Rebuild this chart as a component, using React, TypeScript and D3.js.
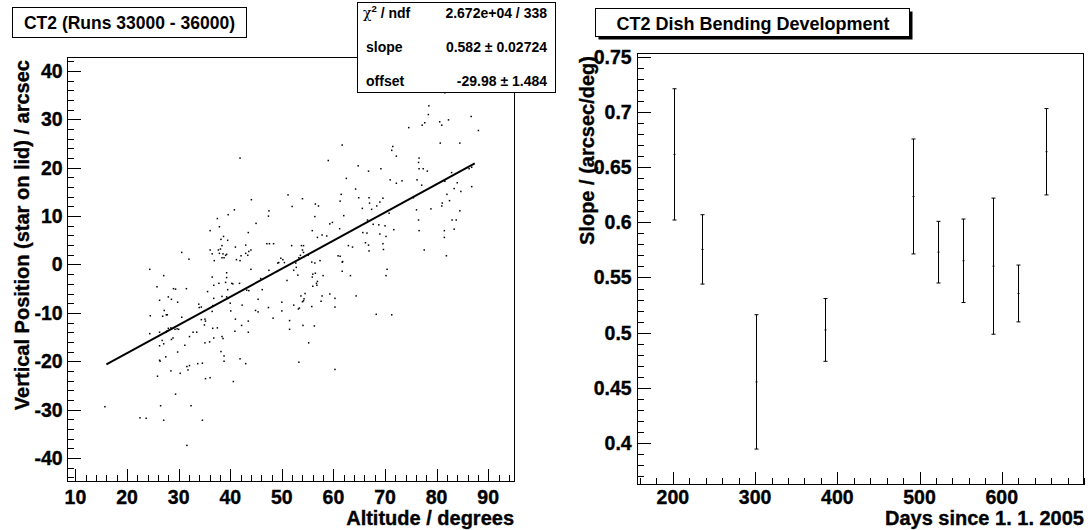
import React from "react";
import * as d3 from "d3";

// ---------- Left panel data: star on lid vertical position vs altitude ----------
const altitude = [
  81.6, 78.5, 78.4, 77.7, 77.2, 74.6, 80.6, 81.0, 82.3, 86.7, 88.1, 80.7, 84.5, 61.7, 71.5, 71.3, 72.2, 41.9, 59.0, 76.6,
  76.5, 64.8, 66.8, 69.2, 76.6, 77.4, 78.2, 86.8, 86.3, 62.5, 71.0, 72.2, 73.3, 76.2, 77.1, 81.6, 82.9, 84.0, 83.4, 84.7,
  86.8, 64.3, 61.5, 51.2, 54.0, 64.9, 66.9, 69.6, 61.3, 56.5, 57.1, 68.4, 44.1, 40.8, 47.5, 47.4, 52.0, 65.6, 67.0, 67.4,
  70.8, 69.0, 75.5, 76.1, 78.9, 81.1, 81.0, 82.0, 82.5, 84.5, 76.5, 39.6, 37.5, 62.0, 56.4, 45.0, 37.9, 59.3, 59.8, 61.2,
  68.8, 70.0, 71.7, 67.7, 66.6, 83.0, 83.8, 76.6, 81.5, 83.4, 81.5, 81.9, 77.6, 36.1, 43.5, 55.9, 57.8, 58.7, 56.9, 65.7,
  66.5, 69.0, 70.2, 38.7, 38.2, 39.5, 38.4, 38.1, 37.7, 36.1, 36.5, 37.9, 38.6, 39.1, 39.3, 38.8, 38.4, 36.9, 47.1, 47.6,
  48.4, 41.0, 43.0, 44.0, 43.0, 43.6, 43.4, 42.1, 41.2, 41.9, 53.8, 54.2, 51.9, 54.0, 54.2, 53.6, 62.9, 63.7, 66.2, 66.8,
  66.9, 69.6, 69.7, 49.8, 50.2, 49.4, 49.2, 50.5, 60.9, 61.3, 61.8, 57.4, 55.8, 56.4, 55.1, 53.3, 30.6, 32.0, 24.4, 27.1,
  25.8, 26.3, 29.0, 29.4, 31.5, 28.0, 28.6, 29.8, 27.2, 26.9, 27.6, 27.8, 24.5, 24.4, 30.6, 33.9, 34.0, 34.4, 35.6, 36.5,
  36.8, 36.8, 36.6, 37.8, 39.3, 39.3, 39.1, 39.5, 40.3, 40.5, 41.8, 38.4, 39.3, 39.6, 40.0, 40.1, 42.3, 43.2, 43.6, 44.0,
  45.9, 46.2, 45.4, 44.9, 45.4, 47.5, 47.4, 48.3, 50.0, 50.0, 51.0, 52.3, 52.3, 52.8, 53.1, 53.2, 53.4, 53.7, 54.0, 54.2,
  54.3, 54.5, 52.7, 51.5, 51.5, 54.1, 55.8, 56.3, 56.0, 56.5, 56.9, 56.7, 56.8, 56.0, 55.9, 58.0, 57.6, 57.8, 59.3, 60.3,
  60.3, 61.7, 61.7, 63.3, 64.4, 55.2, 53.3, 60.3, 68.3, 71.3, 70.4, 70.2, 32.1, 32.8, 33.5, 34.4, 35.1, 35.2, 35.0, 36.5,
  37.5, 36.6, 36.8, 38.4, 38.6, 38.2, 38.8, 38.8, 41.0, 40.9, 42.2, 43.5, 43.5, 41.9, 43.0, 40.6, 35.1, 36.0, 33.7, 34.6,
  35.2, 36.1, 31.2, 31.6, 32.1, 31.8, 30.3, 28.5, 29.8, 28.6, 28.9, 27.8, 27.6, 26.3, 26.8, 26.3, 27.1, 26.3, 27.5, 25.9,
  26.4, 29.3, 29.7, 30.0, 28.5, 28.0, 29.4, 26.5, 32.4, 22.5, 23.7, 27.1, 34.6, 31.6, 15.7,
];
const position = [
  35.5, 32.8, 31.0, 29.3, 28.8, 28.3, 29.5, 28.8, 29.9, 30.6, 27.7, 25.1, 25.1, 24.7, 24.4, 23.6, 22.4, 22.0, 21.5, 22.0,
  21.1, 20.4, 19.3, 19.8, 19.8, 19.8, 19.3, 20.1, 19.8, 17.8, 17.5, 16.8, 17.3, 17.5, 16.4, 17.2, 19.0, 16.9, 15.7, 15.1,
  16.1, 15.6, 14.5, 14.4, 13.6, 13.8, 13.8, 13.7, 13.1, 12.5, 12.1, 12.1, 13.4, 11.3, 11.1, 10.0, 12.0, 11.6, 12.7, 11.4,
  10.6, 12.9, 13.8, 11.3, 11.5, 12.7, 12.1, 14.5, 13.2, 11.1, 9.2, 10.3, 9.5, 10.1, 9.9, 8.5, 7.8, 8.4, 8.7, 7.4,
  8.2, 8.0, 7.2, 8.3, 9.2, 9.2, 9.2, 7.0, 7.0, 7.3, 5.6, 1.8, 3.0, 7.0, 6.6, 7.0, 6.1, 5.9, 5.6, 6.6,
  6.5, 6.3, 5.8, 5.8, 5.2, 5.0, 3.9, 3.2, 3.0, 3.0, 2.2, 2.3, 2.2, 1.9, 2.1, 1.4, 1.4, 0.8, 4.3, 4.3,
  4.3, 3.6, 4.0, 3.0, 2.3, 2.7, 1.9, 1.8, 1.0, 0.8, 3.9, 3.9, 3.9, 3.0, 2.5, 1.9, 3.9, 3.6, 4.5, 4.0,
  2.8, 4.3, 3.1, 1.3, 1.0, 0.4, 0.3, 0.4, 1.8, 1.7, 0.6, 0.8, 0.5, 0.3, 1.9, 1.4, 2.5, 1.1, -1.0, -2.3,
  -4.6, -7.4, -5.0, -5.1, -5.0, -6.7, -7.2, -7.8, -9.5, -10.7, -10.4, -10.4, -10.6, -14.3, -10.9, -8.2, -8.9, -8.8, -5.6, -2.6,
  -4.3, -7.0, -8.5, -3.9, -1.7, -2.7, -3.7, -5.2, -3.9, -4.0, -3.9, -6.6, -6.7, -7.0, -8.0, -9.6, -8.4, -5.3, -5.4, -1.0,
  -2.9, -5.2, -7.2, -9.5, -9.8, -1.2, -8.9, -11.1, -7.8, -9.6, -3.3, -1.2, -8.4, -0.6, -2.2, -9.2, -9.0, -6.5, -7.7, -7.5,
  -7.1, -6.0, 0.3, -11.6, -13.4, -12.6, -8.7, -12.7, -2.0, -1.8, -3.5, -3.9, -4.3, -4.5, -2.6, -2.3, -7.6, -6.5, -6.1, -7.0,
  -8.8, -1.4, 0.5, -2.3, -6.5, -16.2, -20.2, -21.7, -10.3, -10.4, -1.0, -2.3, -14.9, -14.0, -14.0, -11.4, -11.3, -11.7, -12.5, -9.7,
  -13.1, -13.2, -15.2, -14.9, -15.3, -18.0, -18.9, -20.0, -11.3, -13.8, -12.6, -11.7, -14.0, -19.5, -20.5, -24.2, -16.2, -16.0, -20.5, -20.4,
  -23.6, -23.4, -16.7, -21.1, -20.9, -21.8, -22.5, -22.0, -18.1, -15.5, -15.2, -13.7, -14.0, -14.0, -15.7, -16.8, -16.4, -19.8, -19.1, -23.1,
  -20.0, -13.4, -13.3, -13.4, -13.1, -13.2, -26.8, -29.2, -29.2, -31.7, -31.8, -32.2, -32.2, -37.4, -29.4,
];
const fitSlope = 0.582;
const fitOffset = -29.98;
const fitRange = [16.0, 87.4];

const statsLabels = ["slope", "offset"];
const statsValues = ["0.582 \u00b1 0.02724", "-29.98 \u00b1 1.484"];
const chi2Value = "2.672e+04 / 338";

// ---------- Right panel data: slope development ----------
const days = [201.0, 235.6, 301.6, 384.6, 491.5, 522.7, 552.6, 589.5, 620.2, 653.8];
const slopes = [0.6618, 0.5755, 0.4552, 0.5024, 0.6236, 0.573, 0.5652, 0.5603, 0.5355, 0.6642];
const slopeErr = [0.0596, 0.0315, 0.061, 0.0285, 0.0522, 0.028, 0.0379, 0.0618, 0.0258, 0.0392];

// ---------- Tick values ----------
const altTicks = [10, 20, 30, 40, 50, 60, 70, 80, 90];
const posTicks = [-40, -30, -20, -10, 0, 10, 20, 30, 40];
const dayTicks = [200, 300, 400, 500, 600];
const slopeTicks = [0.4, 0.45, 0.5, 0.55, 0.6, 0.65, 0.7, 0.75];

const FONT = "'Liberation Sans', Arial, Helvetica, sans-serif";
const TICK_FS = 19.5;
const TITLE_FS = 20;
const BOLD = 700;

function minorTicks(lo: number, hi: number, step: number, scale: number) {
  const a = Math.ceil((lo * scale) / (step * scale) - 1e-9);
  const b = Math.floor((hi * scale) / (step * scale) + 1e-9);
  return d3.range(a, b + 1).map((k) => (k * step * scale) / scale);
}

const px = (v: number) => Math.round(v) + 0.5;
const d3fmt = d3.format("~g");
const fmt = (v: number) => d3fmt(v).replace("\u2212", "-");

export default function App() {
  // Left panel scales
  const xL = d3.scaleLinear().domain([8.3, 95]).range([66.7, 514]);
  const yL = d3.scaleLinear().domain([-44.7, 42.9]).range([480.7, 57]);
  // Right panel scales
  const xR = d3.scaleLinear().domain([156, 700]).range([636.7, 1084]);
  const yR = d3.scaleLinear().domain([0.3622, 0.7536]).range([484.3, 53.3]);

  const fitLine = d3
    .line<number>()
    .x((d) => xL(d))
    .y((d) => yL(fitSlope * d + fitOffset));

  const [lx0, lx1] = xL.range();
  const [ly0, ly1] = yL.range();
  const [rx0, rx1] = xR.range();
  const [ry0, ry1] = yR.range();

  const tickX = 12.7,
    tickY = 13.4;

  const altMinor = minorTicks(xL.domain()[0], xL.domain()[1], 2, 1);
  const posMinor = minorTicks(yL.domain()[0], yL.domain()[1], 2, 1);
  const dayMinor = minorTicks(xR.domain()[0], xR.domain()[1], 20, 1);
  const slopeMinor = minorTicks(yR.domain()[0], yR.domain()[1], 0.01, 100);

  const txt = { fontFamily: FONT, fontWeight: BOLD, fill: "#000" } as const;
  const heavy = { ...txt, stroke: "#000", strokeWidth: 0.35 } as const;

  return (
    <svg
      width={1088}
      height={530}
      style={{ position: "absolute", left: 0, top: 0, background: "#fff" }}
    >
      <rect x={0} y={0} width={1088} height={530} fill="#fff" />

      {/* ================= LEFT PANEL ================= */}
      <rect
        x={px(lx0)}
        y={px(ly1)}
        width={Math.round(lx1) - Math.round(lx0)}
        height={Math.round(ly0) - Math.round(ly1)}
        fill="none"
        stroke="#000"
        strokeWidth={1}
        shapeRendering="crispEdges"
      />
      <g stroke="#000" strokeWidth={1} shapeRendering="crispEdges">
        {altMinor.map((t) => (
          <line key={"axm" + t} x1={px(xL(t))} x2={px(xL(t))} y1={px(ly0)} y2={px(ly0) - tickX / 2} />
        ))}
        {altTicks.map((t) => (
          <line key={"axM" + t} x1={px(xL(t))} x2={px(xL(t))} y1={px(ly0)} y2={px(ly0) - tickX} />
        ))}
        {posMinor.map((t) => (
          <line key={"aym" + t} x1={px(lx0)} x2={px(lx0) + tickY / 2} y1={px(yL(t))} y2={px(yL(t))} />
        ))}
        {posTicks.map((t) => (
          <line key={"ayM" + t} x1={px(lx0)} x2={px(lx0) + tickY} y1={px(yL(t))} y2={px(yL(t))} />
        ))}
      </g>
      {altTicks.map((t) => (
        <text key={"axl" + t} {...heavy} fontSize={TICK_FS} x={xL(t)} y={504} textAnchor="middle">
          {fmt(t)}
        </text>
      ))}
      {posTicks.map((t) => (
        <text key={"ayl" + t} {...heavy} fontSize={TICK_FS} x={lx0 - 4} y={yL(t) + 7} textAnchor="end">
          {fmt(t)}
        </text>
      ))}
      <text {...heavy} x={lx1} y={525} textAnchor="end" fontSize={TITLE_FS}>
        Altitude / degrees
      </text>
      <text {...heavy} transform={`translate(29,60) rotate(-90)`} textAnchor="end" fontSize={TITLE_FS}>
        Vertical Position (star on lid) / arcsec
      </text>

      {/* scatter points */}
      <g fill="#000">
        {altitude.map((a, i) => (
          <rect key={"p" + i} x={xL(a) - 0.75} y={yL(position[i]) - 0.75} width={1.5} height={1.5} />
        ))}
      </g>
      <path d={fitLine(fitRange) || ""} fill="none" stroke="#000" strokeWidth={2} />

      {/* left title box */}
      <rect x={12.5} y={7.5} width={234} height={30} fill="#fff" stroke="#000" strokeWidth={1} />
      <text {...txt} x={129.5} y={28.5} textAnchor="middle" fontSize={17.5}>
        CT2 (Runs 33000 - 36000)
      </text>

      {/* stats box */}
      <rect x={357.5} y={2.5} width={198} height={90} fill="#fff" stroke="#000" strokeWidth={1} />
      <text {...txt} x={363} y={18} fontSize={14}>
        <tspan fontWeight="normal" fontFamily="'DejaVu Serif', serif">
          {"\u03c7"}
        </tspan>
        <tspan fontSize={9.5} dy={-6}>
          2
        </tspan>
        <tspan dy={6}>{" / ndf"}</tspan>
      </text>
      <text {...txt} x={547} y={18} textAnchor="end" fontSize={14}>
        {chi2Value}
      </text>
      {statsLabels.map((l, i) => (
        <text key={"sl" + l} {...txt} x={366} y={52 + i * 33.5} fontSize={14}>
          {l}
        </text>
      ))}
      {statsValues.map((v, i) => (
        <text key={"sv" + i} {...txt} x={547} y={52 + i * 33.5} textAnchor="end" fontSize={14}>
          {v}
        </text>
      ))}

      {/* ================= RIGHT PANEL ================= */}
      <rect
        x={px(rx0)}
        y={px(ry1)}
        width={Math.round(rx1) - Math.round(rx0) - 1}
        height={Math.round(ry0) - Math.round(ry1)}
        fill="none"
        stroke="#000"
        strokeWidth={1}
        shapeRendering="crispEdges"
      />
      <g stroke="#000" strokeWidth={1} shapeRendering="crispEdges">
        {dayMinor.map((t) => (
          <line key={"dxm" + t} x1={px(xR(t))} x2={px(xR(t))} y1={px(ry0)} y2={px(ry0) - tickX / 2} />
        ))}
        {dayTicks.map((t) => (
          <line key={"dxM" + t} x1={px(xR(t))} x2={px(xR(t))} y1={px(ry0)} y2={px(ry0) - tickX} />
        ))}
        {slopeMinor.map((t) => (
          <line key={"sym" + t} x1={px(rx0)} x2={px(rx0) + tickY / 2} y1={px(yR(t))} y2={px(yR(t))} />
        ))}
        {slopeTicks.map((t) => (
          <line key={"syM" + t} x1={px(rx0)} x2={px(rx0) + tickY} y1={px(yR(t))} y2={px(yR(t))} />
        ))}
      </g>
      {dayTicks.map((t) => (
        <text key={"dxl" + t} {...heavy} fontSize={TICK_FS} x={xR(t)} y={504} textAnchor="middle">
          {fmt(t)}
        </text>
      ))}
      {slopeTicks.map((t) => (
        <text key={"syl" + t} {...heavy} fontSize={TICK_FS} x={rx0 - 5} y={yR(t) + 7} textAnchor="end">
          {fmt(t)}
        </text>
      ))}
      <text {...heavy} x={rx1} y={525} textAnchor="end" fontSize={TITLE_FS}>
        Days since 1. 1. 2005
      </text>
      <text {...heavy} transform={`translate(594,56) rotate(-90)`} textAnchor="end" fontSize={TITLE_FS}>
        Slope / (arcsec/deg)
      </text>

      {/* error bars */}
      <g stroke="#000" strokeWidth={1} fill="none">
        {days.map((d, i) => {
          const x = px(xR(d));
          const yt = yR(slopes[i] + slopeErr[i]);
          const yb = yR(slopes[i] - slopeErr[i]);
          return (
            <g key={"eb" + i}>
              <line x1={x} x2={x} y1={yt} y2={yb} />
              <line x1={x - 2} x2={x + 2} y1={yt} y2={yt} />
              <line x1={x - 2} x2={x + 2} y1={yb} y2={yb} />
            </g>
          );
        })}
      </g>
      <g fill="#000">
        {days.map((d, i) => (
          <rect key={"m" + i} x={px(xR(d)) - 1} y={yR(slopes[i]) - 0.5} width={2} height={1} />
        ))}
      </g>

      {/* right title box with shadow */}
      <rect x={598.5} y={11.5} width={314} height={28} fill="#000" />
      <rect x={595.5} y={8.5} width={314} height={28} fill="#fff" stroke="#000" strokeWidth={1} />
      <text {...txt} x={753} y={29.5} textAnchor="middle" fontSize={18}>
        CT2 Dish Bending Development
      </text>
    </svg>
  );
}
